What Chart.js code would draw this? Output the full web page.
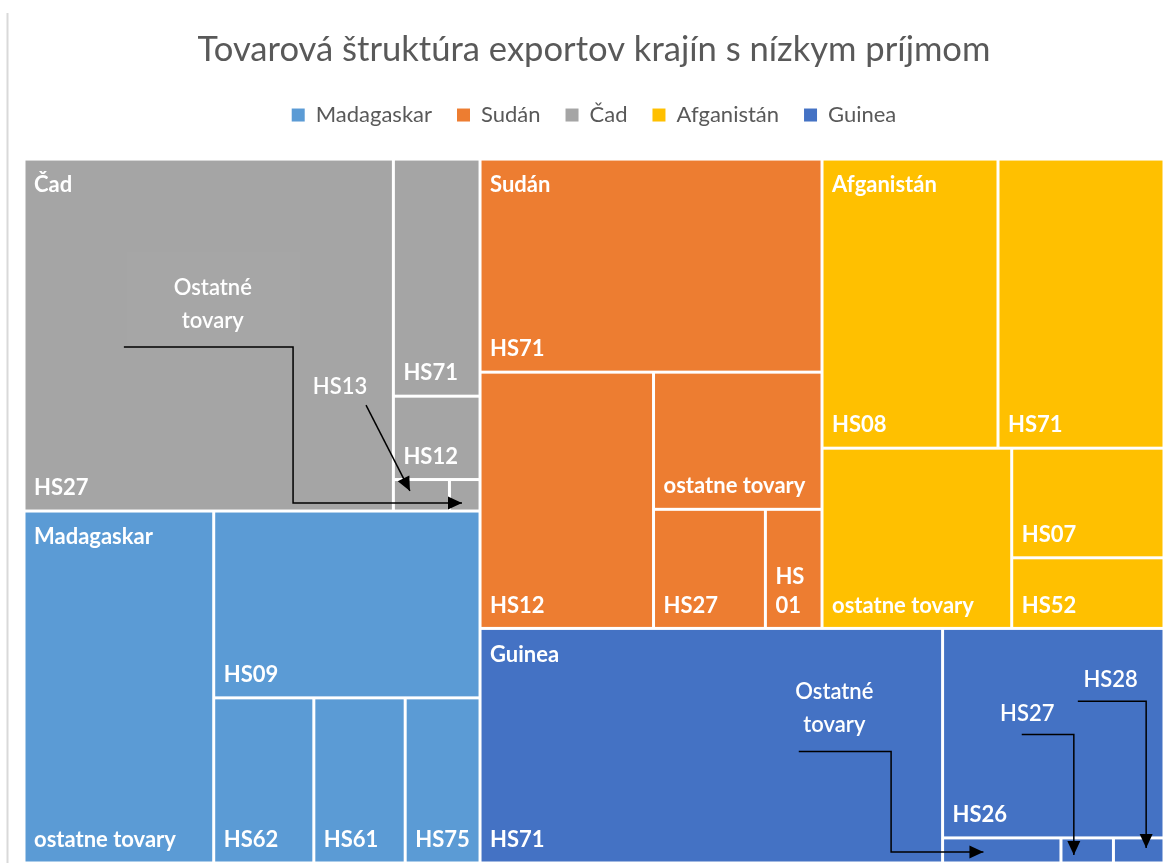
<!DOCTYPE html>
<html lang="sk">
<head>
<meta charset="utf-8">
<title>Tovarová štruktúra exportov krajín s nízkym príjmom</title>
<script src="https://cdn.jsdelivr.net/npm/chart.js@4.4.1/dist/chart.umd.min.js"></script>
<style>
  html, body { margin: 0; padding: 0; background: #fff; }
  canvas { display: block; }
</style>
</head>
<body>
<canvas id="chart" width="1169" height="863"></canvas>
<script>
// treemap.js
// Chart.js nema treemap v jadre, takze bunky rata squarify nizsie a kresli ich plugin cez osi x/y

const FONT = "Lato, 'Open Sans', sans-serif";
const TEXT_GREY = "#595959";

// krajiny v poradi legendy
const countries = ["Madagaskar", "Sudán", "Čad", "Afganistán", "Guinea"];
const countryColors = ["#5B9BD5", "#ED7D31", "#A5A5A5", "#FFC000", "#4472C4"];
// poradie pri ukladani plochy (kazda krajina = 100 %)
const layoutOrder = ["Čad", "Madagaskar", "Sudán", "Afganistán", "Guinea"];

// podiel tovarovych skupin na exporte krajiny (%)
const cadGoods = ["HS27", "HS71", "HS12", "HS13", "ostatne tovary"];
const cadShares = [81.0, 12.8, 4.5, 1.1, 0.6];

const madagaskarGoods = ["ostatne tovary", "HS09", "HS62", "HS61", "HS75"];
const madagaskarShares = [41.6, 31.0, 10.3, 9.4, 7.7];

const sudanGoods = ["HS71", "HS12", "ostatne tovary", "HS27", "HS01"];
const sudanShares = [45.4, 27.7, 14.4, 8.3, 4.2];

const afganistanGoods = ["HS08", "HS71", "ostatne tovary", "HS07", "HS52"];
const afganistanShares = [31.7, 29.9, 21.3, 10.4, 6.7];

const guineaGoods = ["HS71", "HS26", "ostatne tovary", "HS27", "HS28"];
const guineaShares = [67.6, 28.9, 1.85, 0.82, 0.79];

const goodsByCountry = {
  "Madagaskar": [madagaskarGoods, madagaskarShares],
  "Sudán": [sudanGoods, sudanShares],
  "Čad": [cadGoods, cadShares],
  "Afganistán": [afganistanGoods, afganistanShares],
  "Guinea": [guineaGoods, guineaShares],
};

// popisky so sipkami pre male bunky (pozicie su pomerne k ploche krajiny, hrot k cielovej bunke)
const notes = [
  { country: "Čad", target: "ostatne tovary", text: ["Ostatné", "tovary"], at: [0.414, 0.412],
    box: [0.226, 0.264, 0.605, 0.528], from: [0.219, 0.534], via: 0.59, tip: [0.41, 0.745], kind: "elbow" },
  { country: "Čad", target: "HS13", text: ["HS13"], at: [0.693, 0.648],
    from: [0.75, 0.699], tip: [0.295, 0.36], kind: "line" },
  { country: "Guinea", target: "ostatne tovary", text: ["Ostatné", "tovary"], at: [0.518, 0.339],
    from: [0.466, 0.525], via: 0.601, tip: [0.345, 0.56], kind: "elbow" },
  { country: "Guinea", target: "HS27", text: ["HS27"], at: [0.8, 0.364],
    from: [0.792, 0.452], tip: [0.245, 0.68], kind: "corner" },
  { country: "Guinea", target: "HS28", text: ["HS28"], at: [0.922, 0.221],
    from: [0.874, 0.31], tip: [0.647, 0.4], kind: "corner" },
];

/* ---------- layout ---------- */

const sum = arr => arr.reduce((s, v) => s + v, 0);

function worst(row, side) {
  const thick = sum(row.map(d => d.area)) / side;
  let m = 0;
  for (const d of row) {
    const len = d.area / thick;
    m = Math.max(m, thick / len, len / thick);
  }
  return m;
}

function squarify(items, x, y, w, h) {
  const out = [];
  const k = (w * h) / sum(items.map(d => d.value));
  let rest = items.map(d => ({ ...d, area: d.value * k }));
  while (rest.length) {
    const vertical = w >= h; // stlpec pozdlz vysky
    const side = vertical ? h : w;
    const row = [rest[0]];
    let best = worst(row, side);
    let i = 1;
    while (i < rest.length) {
      const next = worst(row.concat(rest[i]), side);
      if (next > best) break;
      row.push(rest[i]);
      best = next;
      i++;
    }
    const thick = sum(row.map(d => d.area)) / side;
    let off = 0;
    for (const d of row) {
      const len = d.area / thick;
      if (vertical) out.push({ ...d, x, y: y + off, w: thick, h: len });
      else out.push({ ...d, x: x + off, y, w: len, h: thick });
      off += len;
    }
    if (vertical) { x += thick; w -= thick; } else { y += thick; h -= thick; }
    rest = rest.slice(i);
  }
  return out;
}

function fitLines(ctx, text, maxW) {
  if (ctx.measureText(text).width <= maxW) return [text];
  let parts = text.includes(" ") ? text.split(" ") : (text.match(/^([A-Za-z]+)(\d+)$/) || []).slice(1);
  if (!parts.length) return null;
  return parts.every(p => ctx.measureText(p).width <= maxW) ? parts : null;
}

/* ---------- plugins ---------- */

const frame = {
  id: "frame",
  beforeDraw(chart) {
    const { ctx } = chart;
    ctx.save();
    ctx.fillStyle = "#d9d9d9";
    ctx.fillRect(6.5, 13, 2, chart.height - 13);
    ctx.restore();
  }
};

const treemap = {
  id: "treemap",
  afterDatasetsDraw(chart) {
    const { ctx, chartArea: a, scales: { x, y } } = chart;
    const W = a.right - a.left, H = a.bottom - a.top;
    const ds = chart.data.datasets;
    const idx = layoutOrder
      .map(name => ds.findIndex(d => d.label === name))
      .filter(i => i >= 0 && chart.isDatasetVisible(i));

    const toPx = r => {
      const left = x.getPixelForValue(r.x / W), right = x.getPixelForValue((r.x + r.w) / W);
      const top = y.getPixelForValue(r.y / H), bottom = y.getPixelForValue((r.y + r.h) / H);
      return { left, right, top, bottom, w: right - left, h: bottom - top };
    };

    const parents = squarify(idx.map(i => ({ i, value: sum(ds[i].shares) })), 0, 0, W, H);
    const gap = 1.5;
    chart.$cells = {};

    ctx.save();
    for (const p of parents) {
      const d = ds[p.i];
      const kids = squarify(d.goods.map((g, j) => ({ name: g, value: d.shares[j] })), p.x, p.y, p.w, p.h);
      const cells = {};
      for (const c of kids) {
        const r = toPx(c);
        cells[c.name] = r;
        ctx.fillStyle = d.backgroundColor;
        ctx.fillRect(r.left + gap, r.top + gap, r.w - 2 * gap, r.h - 2 * gap);
      }

      // popisky buniek vlavo dole
      ctx.fillStyle = "#fff";
      ctx.font = `bold 22px ${FONT}`;
      ctx.textAlign = "left";
      ctx.textBaseline = "middle";
      for (const c of kids) {
        const r = cells[c.name];
        const lines = fitLines(ctx, c.name, r.w - 14);
        if (!lines || lines.length * 29 + 18 > r.h) continue;
        lines.forEach((t, k) => {
          ctx.fillText(t, r.left + 10, r.bottom - 23 - (lines.length - 1 - k) * 29);
        });
      }
      // nazov krajiny vlavo hore
      const pr = toPx(p);
      ctx.fillText(d.label, pr.left + 10, pr.top + 26);
      chart.$cells[d.label] = { rect: pr, cells };
    }
    ctx.restore();
  }
};

function arrowHead(ctx, fx, fy, tx, ty) {
  const ang = Math.atan2(ty - fy, tx - fx), len = 14, half = 6.5;
  const c = Math.cos(ang), s = Math.sin(ang);
  ctx.beginPath();
  ctx.moveTo(tx, ty);
  ctx.lineTo(tx - len * c + half * s, ty - len * s - half * c);
  ctx.lineTo(tx - len * c - half * s, ty - len * s + half * c);
  ctx.closePath();
  ctx.fill();
}

const callouts = {
  id: "callouts",
  afterDraw(chart) {
    const { ctx } = chart;
    if (!chart.$cells) return;
    ctx.save();
    for (const n of notes) {
      const entry = chart.$cells[n.country];
      if (!entry || !entry.cells[n.target]) continue;
      const p = entry.rect, t = entry.cells[n.target];
      const px = f => p.left + f * p.w;
      const py = f => p.top + f * p.h;

      if (n.box) {
        ctx.fillStyle = "rgba(255,255,255,0.02)";
        ctx.fillRect(px(n.box[0]), py(n.box[1]), px(n.box[2]) - px(n.box[0]), py(n.box[3]) - py(n.box[1]));
      }

      ctx.fillStyle = "#fff";
      ctx.font = `600 22px ${FONT}`;
      ctx.textAlign = "center";
      ctx.textBaseline = "middle";
      n.text.forEach((line, k) => {
        ctx.fillText(line, px(n.at[0]), py(n.at[1]) + (k - (n.text.length - 1) / 2) * 33);
      });

      const sx = px(n.from[0]), sy = py(n.from[1]);
      const tx = t.left + n.tip[0] * t.w, ty = t.top + n.tip[1] * t.h;
      let pts;
      if (n.kind === "elbow") pts = [[sx, sy], [px(n.via), sy], [px(n.via), ty], [tx, ty]];
      else if (n.kind === "corner") pts = [[sx, sy], [tx, sy], [tx, ty]];
      else pts = [[sx, sy], [tx, ty]];

      ctx.strokeStyle = "#000";
      ctx.fillStyle = "#000";
      ctx.lineWidth = 1.5;
      ctx.beginPath();
      pts.forEach(([a, b], k) => (k ? ctx.lineTo(a, b) : ctx.moveTo(a, b)));
      ctx.stroke();
      const [f1, f2] = pts[pts.length - 2];
      arrowHead(ctx, f1, f2, tx, ty);
    }
    ctx.restore();
  }
};

/* ---------- chart ---------- */

const datasets = countries.map((c, i) => ({
  label: c,
  data: [],
  backgroundColor: countryColors[i],
  borderWidth: 0,
  goods: goodsByCountry[c][0],
  shares: goodsByCountry[c][1],
}));

new Chart(document.getElementById("chart"), {
  type: "scatter",
  data: { datasets },
  options: {
    responsive: false,
    animation: false,
    layout: { padding: { left: 24, right: 5, top: 0, bottom: 0 } },
    scales: {
      x: { type: "linear", min: 0, max: 1, display: false },
      y: { type: "linear", min: 0, max: 1, reverse: true, display: false },
    },
    plugins: {
      title: {
        display: true,
        text: "Tovarová štruktúra exportov krajín s nízkym príjmom",
        color: TEXT_GREY,
        font: { family: FONT, size: 34.6, weight: "normal" },
        padding: { top: 29.2, bottom: 8.3 },
      },
      legend: {
        display: true,
        labels: {
          boxWidth: 13,
          boxHeight: 13,
          padding: 25,
          color: TEXT_GREY,
          font: { family: FONT, size: 22 },
        },
      },
      // prazdny titulok ako medzera medzi legendou a plochou
      subtitle: {
        display: true,
        text: "",
        weight: 500,
        padding: 0,
        font: { size: 19.2 },
      },
      tooltip: { enabled: false },
    },
  },
  plugins: [frame, treemap, callouts],
});
</script>
</body>
</html>
